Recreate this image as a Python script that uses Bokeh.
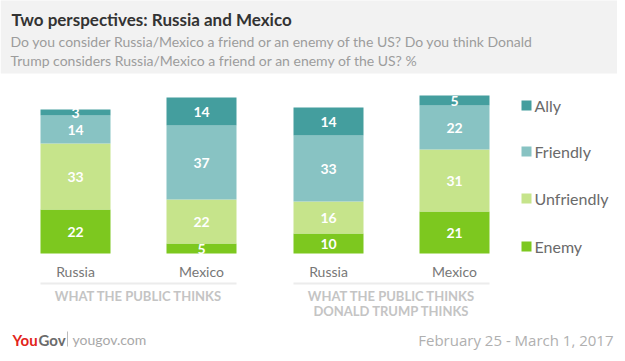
from bokeh.plotting import figure
from bokeh.models import Range1d, ColumnDataSource
from bokeh.core.properties import value
from bokeh.embed import file_html
from bokeh.resources import INLINE

# ---- data ----
countries = ["Russia", "Mexico", "Russia", "Mexico"]
group1 = ["WHAT THE PUBLIC THINKS"]
group2 = ["WHAT THE PUBLIC THINKS", "DONALD TRUMP THINKS"]
series = ["Enemy", "Unfriendly", "Friendly", "Ally"]
enemy = [22, 5, 10, 21]
unfriendly = [33, 22, 16, 31]
friendly = [14, 37, 33, 22]
ally = [3, 14, 14, 5]
colors = ["#7dc81f", "#c6e48b", "#88c3c3", "#449e9e"]

title = "Two perspectives: Russia and Mexico"
subtitle1 = "Do you consider Russia/Mexico a friend or an enemy of the US? Do you think Donald"
subtitle2 = "Trump considers Russia/Mexico a friend or an enemy of the US? %"
date_text = "February 25 - March 1, 2017"

# ---- layout ----
FONT = "Lato"
W, H = 617, 353
BASE = 253.0   # pixel row of bar baseline


def Y(py):
    return (BASE - py) / 2.0


xs = [75, 201, 328, 454]
bar_w = 70

p = figure(width=W, height=H, output_backend="svg", toolbar_location=None,
           x_range=Range1d(0, W), y_range=Range1d(Y(H), Y(0)),
           min_border=0, tools="")
p.axis.visible = False
p.grid.visible = False
p.outline_line_color = None
p.background_fill_color = "white"
p.border_fill_color = "white"

# header background
p.quad(left=[0], right=[W + 10], top=[Y(-5)], bottom=[Y(73)], color="#f2f2f2", line_color=None)
p.text(x=[11], y=[Y(19)], text=[title], text_font=value(FONT), text_font_style="bold",
       text_font_size="17px", text_color="#333333", text_baseline="middle")
p.text(x=[10, 10], y=[Y(41), Y(60)], text=[subtitle1, subtitle2], text_font=value(FONT),
       text_font_size="14px", text_color="#9c9c9c", text_baseline="middle")

# bars
src = ColumnDataSource(dict(x=xs, Enemy=enemy, Unfriendly=unfriendly,
                            Friendly=friendly, Ally=ally))
p.vbar_stack(series, x="x", width=bar_w, color=colors, line_color=None, source=src)

# value labels
lx, ly, lt = [], [], []
for i in range(len(xs)):
    base = 0
    for vals in (enemy, unfriendly, friendly, ally):
        v = vals[i]
        lx.append(xs[i])
        ly.append(base + v / 2.0)
        lt.append(str(v))
        base += v
p.text(x=lx, y=ly, text=lt, text_font=value(FONT), text_font_style="bold",
       text_font_size="14px", text_color="white", text_align="center",
       text_baseline="middle")

# category labels
p.text(x=xs, y=[Y(271)] * 4, text=countries, text_font=value(FONT),
       text_font_size="14px", text_color="#777777", text_align="center",
       text_baseline="middle")

# group separators and labels
p.segment(x0=[40, 293], y0=[Y(283)] * 2, x1=[236, 489], y1=[Y(283)] * 2,
          line_color="#ececec", line_width=2)
gx1 = (xs[0] + xs[1]) / 2
gx2 = (xs[2] + xs[3]) / 2
p.text(x=[gx1, gx2, gx2], y=[Y(295), Y(295), Y(310)], text=group1 + group2,
       text_font=value(FONT), text_font_style="bold", text_font_size="13px",
       text_color="#c4c4c4", text_align="center", text_baseline="middle")

# legend
leg_y = [Y(246), Y(198), Y(151), Y(105)]
p.rect(x=[526] * 4, y=leg_y, width=10, height=5, color=colors, line_color=None)
p.text(x=[534] * 4, y=leg_y, text=series, text_font=value(FONT),
       text_font_size="16px", text_color="#6a6a6a", text_baseline="middle")

# footer
p.text(x=[12], y=[Y(339)], text=["You"], text_font=value(FONT), text_font_style="bold",
       text_font_size="15px", text_color="#e2231a", text_baseline="middle")
p.text(x=[38], y=[Y(339)], text=["Gov"], text_font=value(FONT), text_font_style="bold",
       text_font_size="15px", text_color="#6b6b6b", text_baseline="middle")
p.segment(x0=[67], y0=[Y(331)], x1=[67], y1=[Y(346)], line_color="#bbbbbb", line_width=1)
p.text(x=[72], y=[Y(339)], text=["yougov.com"], text_font=value(FONT),
       text_font_size="14px", text_color="#a8a8a8", text_baseline="middle")
p.text(x=[613], y=[Y(339)], text=[date_text], text_font=value("Open Sans"),
       text_font_size="15px", text_color="#b0b0b0", text_align="right",
       text_baseline="middle")

open("out.html", "w").write(file_html(p, INLINE))
